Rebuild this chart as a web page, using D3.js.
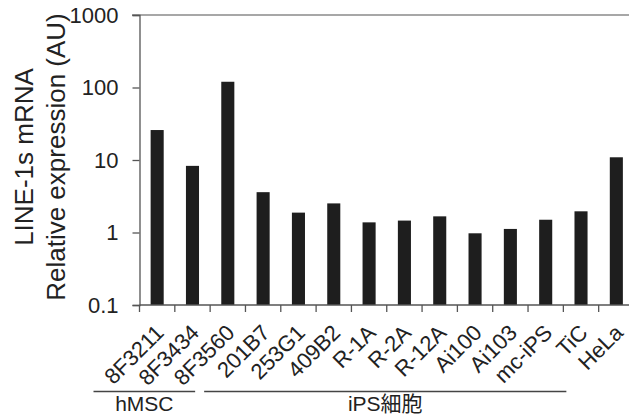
<!DOCTYPE html>
<html>
<head>
<meta charset="utf-8">
<script src="https://cdn.jsdelivr.net/npm/d3@7"></script>
<style>
  body { margin: 0; background: #fff; }
  text { font-family: "Liberation Sans", Arial, "Noto Sans CJK JP", sans-serif; fill: #222; }
</style>
</head>
<body>
<script>
const WIDTH = 629
const HEIGHT = 418

// data
const CATEGORIES = ['8F3211', '8F3434', '8F3560', '201B7', '253G1', '409B2', 'R-1A', 'R-2A',
    'R-12A', 'Ai100', 'Ai103', 'mc-iPS', 'TiC', 'HeLa']
const VALUES = [25.9, 8.3, 120, 3.6, 1.88, 2.52, 1.38, 1.46, 1.67, 0.975, 1.12, 1.5, 1.96, 10.9]
const Y_TICKS = [0.1, 1, 10, 100, 1000]
const GROUP_NAMES = ['hMSC', 'iPS細胞']
const GROUP_FIRST = ['8F3211', '8F3560']
const GROUP_LAST = ['8F3434', 'mc-iPS']

const LEFT = 139.5
const RIGHT = 634
const TOP = 15
const BOTTOM = 305
const BAR_FRAC = 0.37
// how far each group underline reaches past its first / last band
const GROUP_PAD = [[-46, -15], [-6, 3]]

const svg = d3.select('body')
    .append('svg')
    .attr('width', WIDTH)
    .attr('height', HEIGHT)

const x = d3.scaleBand()
    .domain(CATEGORIES)
    .range([LEFT, RIGHT])

const y = d3.scaleLog()
    .domain([0.1, 1000])
    .range([BOTTOM, TOP])

// top frame line
svg.append('line')
    .attr('x1', 132).attr('x2', WIDTH)
    .attr('y1', y(1000)).attr('y2', y(1000))
    .attr('stroke', '#8a8a8a')
    .attr('stroke-width', 1.5)

const barW = x.bandwidth() * BAR_FRAC
svg.append('g')
    .selectAll('rect')
    .data(VALUES)
    .enter()
    .append('rect')
    .attr('x', (d, i) => x(CATEGORIES[i]) + (x.bandwidth() - barW) / 2)
    .attr('width', barW)
    .attr('y', d => y(d))
    .attr('height', d => y(0.1) - y(d))
    .attr('fill', '#1e1e1e')

// y axis
const yAxis = d3.axisLeft(y)
    .tickValues(Y_TICKS)
    .tickSize(7)
    .tickPadding(14)
    .tickFormat(d => `${d}`)

const gy = svg.append('g')
    .attr('transform', `translate(${LEFT}, 0)`)
    .call(yAxis)
gy.select('.domain').attr('stroke', '#555').attr('stroke-width', 1.3)
gy.selectAll('.tick line').attr('stroke', '#555').attr('stroke-width', 1.3)
gy.selectAll('.tick text')
    .attr('font-size', 22)
    .attr('font-family', '"Liberation Sans", Arial, sans-serif')
    .attr('fill', '#222')

// x axis line with ticks on band boundaries
svg.append('line')
    .attr('x1', LEFT).attr('x2', WIDTH)
    .attr('y1', BOTTOM).attr('y2', BOTTOM)
    .attr('stroke', '#555')
    .attr('stroke-width', 1.3)

svg.append('g')
    .selectAll('line')
    .data(CATEGORIES)
    .enter()
    .append('line')
    .attr('x1', d => x(d)).attr('x2', d => x(d))
    .attr('y1', BOTTOM).attr('y2', BOTTOM + 7)
    .attr('stroke', '#555')
    .attr('stroke-width', 1.3)

// category labels
svg.append('g')
    .selectAll('text')
    .data(CATEGORIES)
    .enter()
    .append('text')
    .text(d => d)
    .attr('transform', d => `translate(${x(d) + x.bandwidth() / 2 + 8}, 334) rotate(-45)`)
    .attr('text-anchor', 'end')
    .attr('font-size', 22)

// group underlines and names
GROUP_NAMES.forEach((name, i) => {
    const x1 = x(GROUP_FIRST[i]) + GROUP_PAD[i][0]
    const x2 = x(GROUP_LAST[i]) + x.bandwidth() + GROUP_PAD[i][1]
    svg.append('line')
        .attr('x1', x1).attr('x2', x2)
        .attr('y1', 391.5).attr('y2', 391.5)
        .attr('stroke', '#444')
        .attr('stroke-width', 1.3)
    svg.append('text')
        .text(name)
        .attr('x', (x1 + x2) / 2)
        .attr('y', 411)
        .attr('text-anchor', 'middle')
        .attr('font-size', 21)
})

// y title
const title = svg.append('text')
    .attr('transform', `translate(0, ${157}) rotate(-90)`)
    .attr('text-anchor', 'middle')
    .attr('font-size', 26)
title.append('tspan').attr('x', 0).attr('y', 33).text('LINE-1s mRNA')
title.append('tspan').attr('x', 0).attr('y', 65).text('Relative expression (AU)')
</script>
</body>
</html>
